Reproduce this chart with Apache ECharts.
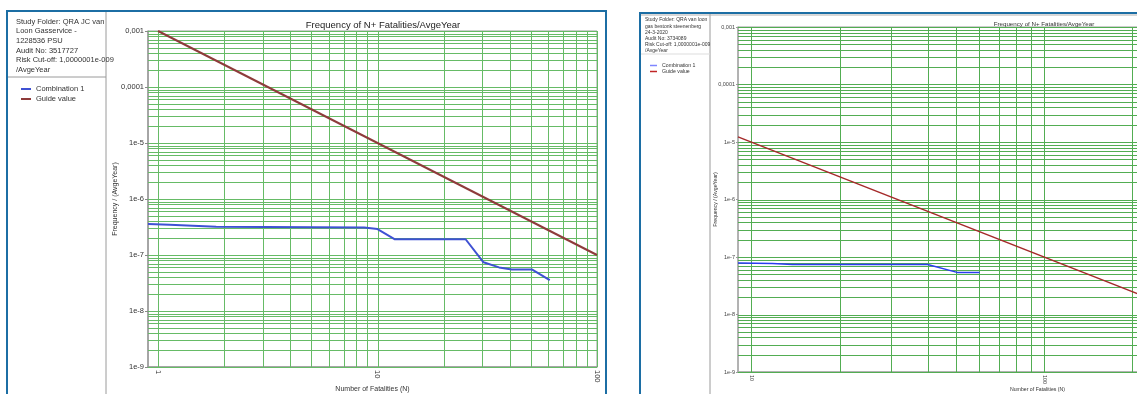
<!DOCTYPE html>
<html><head><meta charset="utf-8">
<script src="https://cdn.jsdelivr.net/npm/echarts@6/dist/echarts.min.js"></script>
<style>html,body{margin:0;padding:0;background:#fff}#c{width:1137px;height:394px}</style>
</head><body><div id="c"></div>
<script>
// ---------- data ----------
const chartTitle = 'Frequency of N+ Fatalities/AvgeYear';
const xAxisName = 'Number of Fatalities (N)';
const yAxisName = 'Frequency / (AvgeYear)';
const seriesNames = ['Combination 1', 'Guide value'];

const yTickExps = [-9, -8, -7, -6, -5, -4, -3];
const yTickLabels = ['1e-9', '1e-8', '1e-7', '1e-6', '1e-5', '0,0001', '0,001'];
const xTickLabelsLeft = ['1', '10', '100'];
const xTickLabelsRight = ['10', '100', '1000'];

const leftInfo = ['Study Folder: QRA JC van', 'Loon Gasservice -', '1228536 PSU', 'Audit No: 3517727', 'Risk Cut-off: 1,0000001e-009', '/AvgeYear'];
const rightInfo = ['Study Folder: QRA van loon', 'gas bestonk steenenberg', '24-3-2020', 'Audit No: 3734089', 'Risk Cut-off: 1,0000001e-009', '/AvgeYear'];

// left chart
const leftCombN = [0.9, 1.13, 1.44, 1.84, 8.7, 10, 12, 25.2, 30.4, 35.8, 40.9, 50.7, 60.9];
const leftCombF = [3.56e-7, 3.46e-7, 3.32e-7, 3.18e-7, 3.1e-7, 2.9e-7, 1.91e-7, 1.91e-7, 7.4e-8, 6.0e-8, 5.5e-8, 5.5e-8, 3.56e-8];
const leftGuideN = [1, 100];
const leftGuideF = [1e-3, 1e-7];

// right chart
const rightCombN = [9, 11.8, 13.8, 40, 50.4, 60.2];
const rightCombF = [7.86e-8, 7.7e-8, 7.4e-8, 7.4e-8, 5.4e-8, 5.4e-8];
const rightGuideN = [9, 1000];
const rightGuideF = [1.23e-5, 1e-9];

// ---------- helpers ----------
const FONT = "'Liberation Sans', Arial, sans-serif";
const zip = (a, b) => a.map((v, i) => [v, b[i]]);
const mults = [1, 2, 3, 4, 5, 6, 7, 8, 9];
function gridLineData(xMin, yMin, xe0, xe1, ye0, ye1) {
  const out = [];
  for (let e = ye0; e < ye1; e++) for (const m of mults) out.push([xMin, m * Math.pow(10, e), 0]);
  out.push([xMin, Math.pow(10, ye1), 0]);
  for (let e = xe0; e < xe1; e++) for (const m of mults) out.push([m * Math.pow(10, e), yMin, 1]);
  out.push([Math.pow(10, xe1), yMin, 1]);
  return out;
}
function isDecade(v) { const l = Math.log10(v); return Math.abs(l - Math.round(l)) < 1e-6; }
function yFmt(v) {
  if (!isDecade(v)) return '';
  const i = yTickExps.indexOf(Math.round(Math.log10(v)));
  return i >= 0 ? yTickLabels[i] : '';
}
function xFmt(labels) {
  return function (v) {
    if (!isDecade(v)) return '';
    const s = String(Math.round(v));
    return labels.indexOf(s) >= 0 ? s : '';
  };
}
function gridSeries(idx, data, color) {
  return {
    type: 'custom', name: '_grid', xAxisIndex: idx, yAxisIndex: idx, silent: true, z: 1, clip: false,
    encode: { x: 0, y: 1 }, data: data,
    renderItem: function (params, api) {
      const cs = params.coordSys;
      const p = api.coord([api.value(0), api.value(1)]);
      let shape;
      if (api.value(2) === 0) {
        const y = Math.round(p[1]) + 0.5;
        shape = { x1: cs.x, y1: y, x2: cs.x + cs.width, y2: y };
      } else {
        const x = Math.round(p[0]) + 0.5;
        shape = { x1: x, y1: cs.y, x2: x, y2: cs.y + cs.height };
      }
      return { type: 'line', shape: shape, style: { stroke: color, lineWidth: 1 } };
    }
  };
}

const chart = echarts.init(document.getElementById('c'), null, { renderer: 'canvas' });
const frameBlue = '#1c6ea4';
const option = {
  animation: false,
  backgroundColor: '#ffffff',
  textStyle: { fontFamily: FONT },
  title: [
    { text: chartTitle, left: 378, top: 15, textAlign: 'center', textStyle: { fontSize: 9.5, fontWeight: 'normal', color: '#222', fontFamily: FONT } },
    { text: chartTitle, left: 1039, top: 16, textAlign: 'center', textStyle: { fontSize: 6.2, fontWeight: 'normal', color: '#333', fontFamily: FONT } }
  ],
  legend: [
    { orient: 'vertical', left: 16, top: 80, itemWidth: 10, itemHeight: 2, itemGap: 2, icon: 'rect', selectedMode: false,
      textStyle: { fontSize: 7.5, color: '#333', fontFamily: FONT },
      data: [{ name: seriesNames[0], itemStyle: { color: '#3f51d3' } }, { name: seriesNames[1], itemStyle: { color: '#8e3b3b' } }] },
    { orient: 'vertical', left: 645, top: 58, itemWidth: 7, itemHeight: 1.5, itemGap: 1, icon: 'rect', selectedMode: false,
      textStyle: { fontSize: 5.2, color: '#333', fontFamily: FONT },
      data: [{ name: seriesNames[0], itemStyle: { color: '#7f86ff' } }, { name: seriesNames[1], itemStyle: { color: '#c02525' } }] }
  ],
  grid: [
    { left: 148, top: 31, width: 449, height: 336, outerBoundsMode: 'none', containLabel: false, show: true, borderColor: '#9a9a9a', borderWidth: 1, backgroundColor: 'transparent' },
    { left: 738, top: 27, width: 599, height: 345, outerBoundsMode: 'none', containLabel: false, show: true, borderColor: '#9a9a9a', borderWidth: 1, backgroundColor: 'transparent' }
  ],
  xAxis: [
    { type: 'log', logBase: 10, gridIndex: 0, min: 0.9, max: 100, splitNumber: 2,
      axisLine: { lineStyle: { color: '#999', width: 1.5 } }, axisTick: { show: false }, splitLine: { show: false },
      axisLabel: { rotate: -90, fontSize: 7.5, color: '#333', margin: 3, formatter: xFmt(xTickLabelsLeft), showMinLabel: false },
      name: xAxisName, nameLocation: 'middle', nameGap: 19, nameMoveOverlap: false, nameTextStyle: { fontSize: 7, color: '#333' } },
    { type: 'log', logBase: 10, gridIndex: 1, min: 9, max: 1000, splitNumber: 2,
      axisLine: { lineStyle: { color: '#aaa', width: 1.5 } }, axisTick: { show: false }, splitLine: { show: false },
      axisLabel: { rotate: -90, fontSize: 5.5, color: '#444', margin: 3, formatter: xFmt(xTickLabelsRight), showMinLabel: false },
      name: xAxisName, nameLocation: 'middle', nameGap: 15, nameMoveOverlap: false, nameTextStyle: { fontSize: 5.2, color: '#333' } }
  ],
  yAxis: [
    { type: 'log', logBase: 10, gridIndex: 0, min: 1e-9, max: 1e-3, interval: 1, splitNumber: 6,
      axisLine: { show: true, lineStyle: { color: '#999', width: 1.5 } },
      axisTick: { show: true, length: 3, lineStyle: { color: '#888' } }, splitLine: { show: false },
      axisLabel: { fontSize: 7.5, color: '#333', margin: 4, formatter: yFmt },
      name: yAxisName, nameLocation: 'middle', nameGap: 29, nameMoveOverlap: false, nameTextStyle: { fontSize: 7, color: '#333' } },
    { type: 'log', logBase: 10, gridIndex: 1, min: 1e-9, max: 1e-3, interval: 1, splitNumber: 6,
      axisLine: { show: true, lineStyle: { color: '#aaa', width: 1.5 } },
      axisTick: { show: true, length: 2, lineStyle: { color: '#999' } }, splitLine: { show: false },
      axisLabel: { fontSize: 5.5, color: '#444', margin: 3, formatter: yFmt },
      name: yAxisName, nameLocation: 'middle', nameGap: 20, nameMoveOverlap: false, nameTextStyle: { fontSize: 5.2, color: '#333' } }
  ],
  series: [
    gridSeries(0, gridLineData(0.9, 1e-9, 0, 2, -9, -3), '#66bb66'),
    gridSeries(1, gridLineData(9, 1e-9, 1, 3, -9, -3), '#52ad52'),
    { type: 'line', name: seriesNames[1], xAxisIndex: 0, yAxisIndex: 0, data: zip(leftGuideN, leftGuideF), symbol: 'none', z: 10,
      lineStyle: { color: '#8e3b3b', width: 2 }, itemStyle: { color: '#8e3b3b' } },
    { type: 'line', name: seriesNames[0], xAxisIndex: 0, yAxisIndex: 0, data: zip(leftCombN, leftCombF), symbol: 'none', z: 11,
      lineStyle: { color: '#3f51d3', width: 2 }, itemStyle: { color: '#3f51d3' } },
    { type: 'line', name: seriesNames[1], xAxisIndex: 1, yAxisIndex: 1, data: zip(rightGuideN, rightGuideF), symbol: 'none', z: 10,
      lineStyle: { color: '#a52a2a', width: 1.5 }, itemStyle: { color: '#a52a2a' } },
    { type: 'line', name: seriesNames[0], xAxisIndex: 1, yAxisIndex: 1, data: zip(rightCombN, rightCombF), symbol: 'none', z: 11,
      lineStyle: { color: '#2b3cf0', width: 1.5 }, itemStyle: { color: '#2b3cf0' } }
  ],
  graphic: [
    { type: 'rect', z: 0, shape: { x: 7, y: 11, width: 599, height: 400 }, style: { fill: 'none', stroke: frameBlue, lineWidth: 2 } },
    { type: 'rect', z: 0, shape: { x: 640, y: 13, width: 520, height: 400 }, style: { fill: 'none', stroke: frameBlue, lineWidth: 2 } },
    { type: 'line', z: 0, shape: { x1: 106, y1: 12, x2: 106, y2: 394 }, style: { stroke: '#9a9a9a', lineWidth: 1 } },
    { type: 'line', z: 0, shape: { x1: 8, y1: 77, x2: 106, y2: 77 }, style: { stroke: '#9a9a9a', lineWidth: 1 } },
    { type: 'line', z: 0, shape: { x1: 710, y1: 14, x2: 710, y2: 394 }, style: { stroke: '#9a9a9a', lineWidth: 1 } },
    { type: 'line', z: 0, shape: { x1: 641, y1: 54, x2: 710, y2: 54 }, style: { stroke: '#dddddd', lineWidth: 1 } },
    { type: 'line', z: 0, shape: { x1: 641, y1: 15, x2: 1137, y2: 15 }, style: { stroke: '#b0b0b0', lineWidth: 1 } },
    { type: 'text', z: 5, left: 16, top: 17, style: { text: leftInfo.join('\n'), fontSize: 7.5, lineHeight: 9.6, fill: '#333', fontFamily: FONT } },
    { type: 'text', z: 5, left: 645, top: 17, style: { text: rightInfo.join('\n'), fontSize: 5, lineHeight: 6.1, fill: '#333', fontFamily: FONT } }
  ]
};
chart.setOption(option);
</script>
</body></html>
